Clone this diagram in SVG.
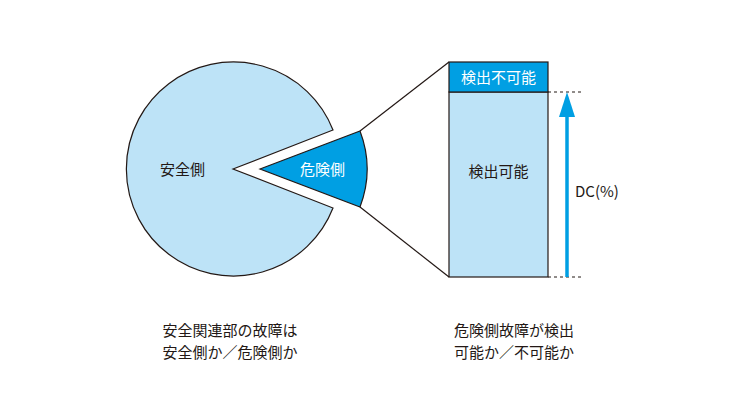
<svg xmlns="http://www.w3.org/2000/svg" width="750" height="418" viewBox="0 0 750 418">
<style>
text{font-family:"Noto Sans CJK JP","Noto Sans",sans-serif;font-size:15px;fill:#231815}
.w{fill:#fff}
.ln{stroke:#231815;stroke-width:1.2;fill:none}
.dash{stroke:#231815;stroke-width:1;stroke-dasharray:3,3}
</style>
<rect width="750" height="418" fill="#fff"/>
<g id="safe">
<path d="M233,169 L333,130 A107,107 0 1 0 333,208 Z" fill="#bde3f7" stroke="#231815" stroke-width="1.2"/>
<text x="160" y="175">安全側</text>
</g>
<g id="danger">
<path d="M260,169 L360,131 A107,107 0 0 1 360,207 Z" fill="#009fe3" stroke="#231815" stroke-width="1.2"/>
<text x="300" y="175" class="w">危険側</text>
</g>
<g id="bar">
<rect x="449" y="92" width="99" height="185" fill="#bde3f7" stroke="#231815" stroke-width="1.2"/>
<rect x="449" y="62" width="99" height="30" fill="#009fe3" stroke="#231815" stroke-width="1.2"/>
<text x="498.5" y="83" class="w" text-anchor="middle">検出不可能</text>
<text x="498.5" y="177" text-anchor="middle">検出可能</text>
</g>
<g id="connectors">
<line class="ln" x1="360" y1="131" x2="449" y2="62"/>
<line class="ln" x1="360" y1="207" x2="449" y2="277"/>
<line class="dash" x1="548" y1="92" x2="583" y2="92"/>
<line class="dash" x1="548" y1="277" x2="583" y2="277"/>
<line x1="567" y1="277" x2="567" y2="112" stroke="#009fe3" stroke-width="3.5"/>
<polygon points="567,92 559,117 575,117" fill="#009fe3"/>
</g>
<g id="dc"><text x="575" y="197">DC(%)</text></g>
<g id="captions">
<text x="230" y="336" text-anchor="middle">安全関連部の故障は</text>
<text x="230" y="358" text-anchor="middle">安全側か／危険側か</text>
<text x="514" y="336" text-anchor="middle">危険側故障が検出</text>
<text x="514" y="358" text-anchor="middle">可能か／不可能か</text>
</g>
</svg>
